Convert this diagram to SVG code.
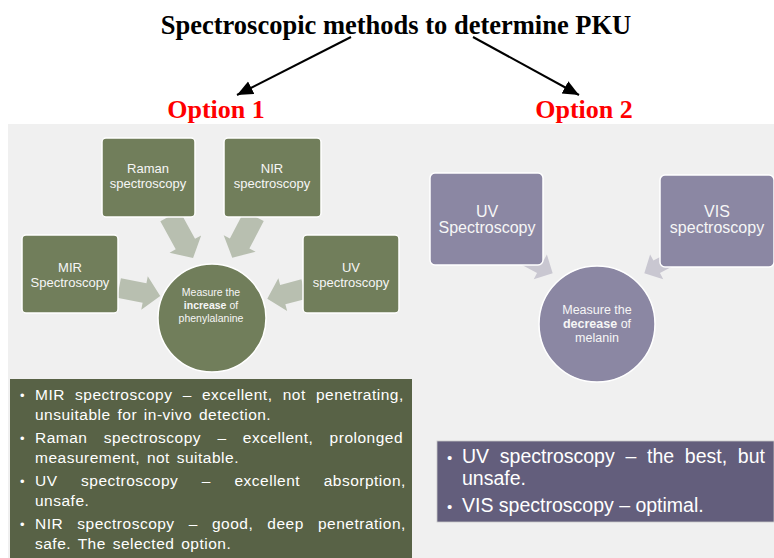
<svg xmlns="http://www.w3.org/2000/svg" width="774" height="558" viewBox="0 0 774 558">
<style>
.title{font-family:"Liberation Serif","Times New Roman",serif;font-weight:bold}
.box{fill:#717e5b;stroke:#ffffff;stroke-width:1.5}
.pbox{fill:#8b87a3;stroke:#ffffff;stroke-width:1.5}
.lbl{font-family:"Liberation Sans",Arial,sans-serif;fill:#f6f6f6;text-anchor:middle}
.body{font-family:"Liberation Sans",Arial,sans-serif;fill:#ffffff}
.wide{letter-spacing:0.5px}
.last{word-spacing:2px}
.garrow{fill:#b8bfb0}
.parrow{fill:#c9c7d1}
</style>
<defs>
<marker id="tri" markerUnits="userSpaceOnUse" markerWidth="18" markerHeight="16" refX="16" refY="7" orient="auto">
<path d="M0,0 L16,7 L0,14 Z" fill="#000"/>
</marker>
</defs>
<rect x="0" y="0" width="774" height="558" fill="#ffffff"/>
<rect x="8" y="124" width="766" height="434" fill="#f0f0f0"/>

<g id="title">
<text class="title" x="396" y="34" font-size="26.5" text-anchor="middle" fill="#000">Spectroscopic methods to determine PKU</text>
</g>
<g id="option1"><text class="title" x="216" y="118" font-size="26" text-anchor="middle" fill="#ff0000">Option 1</text></g>
<g id="option2"><text class="title" x="584" y="118" font-size="26" text-anchor="middle" fill="#ff0000">Option 2</text></g>

<g id="connectors">
<line x1="351" y1="37" x2="237" y2="95" stroke="#000" stroke-width="2" marker-end="url(#tri)"/>
<line x1="473" y1="37" x2="579" y2="95" stroke="#000" stroke-width="2" marker-end="url(#tri)"/>
<polygon class="garrow" points="0,-11 32,-11 32,-18 48,0 32,18 32,11 0,11" transform="translate(170,216) rotate(61.3)"/>
<polygon class="garrow" points="0,-11 31,-11 31,-18 47,0 31,18 31,11 0,11" transform="translate(254,216) rotate(117.6)"/>
<polygon class="garrow" points="0,-10 26,-10 26,-17 42,0 26,17 26,10 0,10" transform="translate(119,288) rotate(11)"/>
<polygon class="garrow" points="0,-10 22,-10 22,-17 38,0 22,17 22,10 0,10" transform="translate(304,289) rotate(165)"/>
<polygon class="parrow" points="0,-7 40,-7 40,-14 54,0 40,14 40,7 0,7" transform="translate(505,248) rotate(28)"/>
<polygon class="parrow" points="0,-7 40,-7 40,-14 54,0 40,14 40,7 0,7" transform="translate(692,248) rotate(152)"/>
</g>

<g id="raman">
<rect class="box" x="102" y="138" width="93" height="79" rx="4"/>
<text class="lbl" x="148" y="173" font-size="13">Raman</text>
<text class="lbl" x="148" y="188" font-size="13">spectroscopy</text>
</g>
<g id="nir">
<rect class="box" x="224" y="138" width="97" height="79" rx="4"/>
<text class="lbl" x="272" y="173" font-size="13">NIR</text>
<text class="lbl" x="272" y="188" font-size="13">spectroscopy</text>
</g>
<g id="mir">
<rect class="box" x="22" y="235" width="96" height="78" rx="4"/>
<text class="lbl" x="70" y="272" font-size="13">MIR</text>
<text class="lbl" x="70" y="287" font-size="13">Spectroscopy</text>
</g>
<g id="uv1">
<rect class="box" x="303" y="235" width="96" height="78" rx="4"/>
<text class="lbl" x="351" y="272" font-size="13">UV</text>
<text class="lbl" x="351" y="287" font-size="13">spectroscopy</text>
</g>
<g id="measure1">
<circle cx="212" cy="318" r="54" fill="#717e5b" stroke="#ffffff" stroke-width="1.5"/>
<text class="lbl" x="211" y="296" font-size="10.5">Measure the</text>
<text class="lbl" x="211" y="309" font-size="10.5"><tspan font-weight="bold">increase</tspan> of</text>
<text class="lbl" x="211" y="322" font-size="10.5">phenylalanine</text>
</g>

<g id="uv2">
<rect class="pbox" x="430" y="173" width="113" height="92" rx="5"/>
<text class="lbl" x="487" y="217" font-size="16">UV</text>
<text class="lbl" x="487" y="233" font-size="16">Spectroscopy</text>
</g>
<g id="vis">
<rect class="pbox" x="660" y="175" width="114" height="92" rx="5"/>
<text class="lbl" x="717" y="217" font-size="16">VIS</text>
<text class="lbl" x="717" y="233" font-size="16">spectroscopy</text>
</g>
<g id="measure2">
<circle cx="597" cy="324" r="58" fill="#8b87a3" stroke="#ffffff" stroke-width="1.5"/>
<text class="lbl" x="597" y="314" font-size="12.5">Measure the</text>
<text class="lbl" x="597" y="328" font-size="12.5"><tspan font-weight="bold">decrease</tspan> of</text>
<text class="lbl" x="597" y="342" font-size="12.5">melanin</text>
</g>

<g id="notes1">
<rect x="10" y="379" width="402" height="180" fill="#586246"/>
<g class="body" font-size="15.5">
<text x="20" y="400" font-size="13">•</text>
<text class="wide" x="35" y="400" word-spacing="5.4">MIR spectroscopy – excellent, not penetrating,</text>
<text class="wide last" x="35" y="420">unsuitable for in-vivo detection.</text>
<text x="20" y="443" font-size="13">•</text>
<text class="wide" x="35" y="443" word-spacing="11.5">Raman spectroscopy – excellent, prolonged</text>
<text class="wide last" x="35" y="463">measurement, not suitable.</text>
<text x="20" y="486" font-size="13">•</text>
<text class="wide" x="35" y="486" word-spacing="18.7">UV spectroscopy – excellent absorption,</text>
<text class="wide" x="35" y="506">unsafe.</text>
<text x="20" y="529" font-size="13">•</text>
<text class="wide" x="35" y="529" word-spacing="9.3">NIR spectroscopy – good, deep penetration,</text>
<text class="wide last" x="35" y="549">safe. The selected option.</text>
</g>
</g>

<g id="notes2">
<rect x="437" y="441" width="337" height="81" fill="#635e7c" stroke="#c8c8c8" stroke-width="0.8"/>
<g class="body" font-size="19.5">
<text x="447" y="463" font-size="15">•</text>
<text x="462" y="463" word-spacing="5.3">UV spectroscopy – the best, but</text>
<text x="462" y="485">unsafe.</text>
<text x="447" y="512" font-size="15">•</text>
<text x="462" y="512">VIS spectroscopy – optimal.</text>
</g>
</g>
</svg>
